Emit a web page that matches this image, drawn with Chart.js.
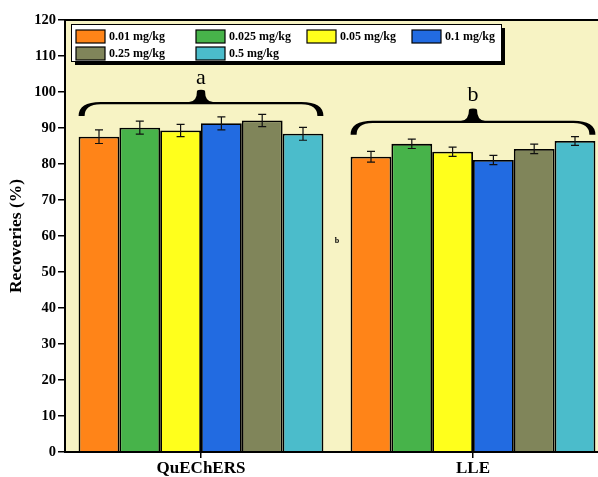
<!DOCTYPE html>
<html lang="en">
<head>
<meta charset="UTF-8">
<title>Recoveries</title>
<script src="https://cdn.jsdelivr.net/npm/chart.js"></script>
<style>
  body { margin: 0; overflow: hidden; background: #fff; }
  #wrap { width: 612px; height: 477px; }
</style>
</head>
<body>
<div id="wrap"><canvas id="recChart" width="612" height="477"></canvas></div>
<script>
// categories and series
const categories = ['QuEChERS', 'LLE'];
const seriesLabels = ['0.01 mg/kg', '0.025 mg/kg', '0.05 mg/kg', '0.1 mg/kg', '0.25 mg/kg', '0.5 mg/kg'];
const seriesColors = ['#FF8418', '#47B34A', '#FFFF1C', '#226BE1', '#80855A', '#4BBCCB'];

// recoveries (%) per concentration, [QuEChERS, LLE]
const rec001 = [87.6, 82.0];
const rec0025 = [90.1, 85.6];
const rec005 = [89.3, 83.4];
const rec01 = [91.3, 81.1];
const rec025 = [92.1, 84.2];
const rec05 = [88.4, 86.4];

// standard deviations
const sd001 = [1.9, 1.5];
const sd0025 = [1.8, 1.3];
const sd005 = [1.7, 1.3];
const sd01 = [1.8, 1.3];
const sd025 = [1.7, 1.3];
const sd05 = [1.8, 1.2];

const yTicks = [0, 120, 10]; // min, max, step

// significance letters and brace heights (in % units)
const groupLetters = ['a', 'b'];
const braceLevels = [96.9, 91.7];
const letterLevels = [102.2, 97.6];

const seriesValues = [rec001, rec0025, rec005, rec01, rec025, rec05];
const seriesErrors = [sd001, sd0025, sd005, sd01, sd025, sd05];

const serif = '"Liberation Serif", "Times New Roman", serif';

// plot background + frame
const frame = {
  id: 'frame',
  beforeDatasetsDraw(chart) {
    const { ctx, chartArea: a } = chart;
    ctx.save();
    ctx.fillStyle = '#F7F3C4';
    ctx.fillRect(a.left, a.top, a.right - a.left, a.bottom - a.top);
    ctx.restore();
  },
  afterDatasetsDraw(chart) {
    const { ctx, chartArea: a } = chart;
    ctx.save();
    ctx.strokeStyle = '#000';
    ctx.lineWidth = 2;
    ctx.strokeRect(a.left, a.top, a.right - a.left, a.bottom - a.top);
    ctx.restore();
  }
};

// error bars
const errorBars = {
  id: 'errorBars',
  afterDatasetsDraw(chart) {
    const { ctx } = chart;
    const y = chart.scales.y;
    ctx.save();
    ctx.strokeStyle = '#111';
    ctx.lineWidth = 1.2;
    chart.data.datasets.forEach((ds, di) => {
      chart.getDatasetMeta(di).data.forEach((bar, i) => {
        const v = ds.data[i], e = seriesErrors[di][i];
        const yt = y.getPixelForValue(v + e), yb = y.getPixelForValue(v - e);
        ctx.beginPath();
        ctx.moveTo(bar.x, yt); ctx.lineTo(bar.x, yb);
        ctx.moveTo(bar.x - 4, yt); ctx.lineTo(bar.x + 4, yt);
        ctx.moveTo(bar.x - 4, yb); ctx.lineTo(bar.x + 4, yb);
        ctx.stroke();
      });
    });
    ctx.restore();
  }
};

function halfBrace(ctx, x0, xm, L, E, P, dir) {
  // dir = 1 for left half, -1 for right half (x0 is the tip side)
  const r = 22 * dir, rp = 12 * dir, t = 1.1, w = 6 * dir;
  ctx.beginPath();
  ctx.moveTo(x0, E);
  ctx.quadraticCurveTo(x0, L - t, x0 + r, L - t);
  ctx.lineTo(xm - rp, L - t);
  ctx.quadraticCurveTo(xm - 4 * dir, L - t, xm - 4 * dir, P + 1);
  ctx.quadraticCurveTo(xm - 3 * dir, P, xm, P);
  ctx.lineTo(xm, L + t);
  ctx.lineTo(x0 + r, L + t);
  ctx.quadraticCurveTo(x0 + w, L + t, x0 + w, E);
  ctx.closePath();
  ctx.fill();
}

// braces with letters over each group
const braces = {
  id: 'braces',
  afterDatasetsDraw(chart) {
    const { ctx } = chart;
    const y = chart.scales.y;
    const n = chart.data.datasets.length;
    ctx.save();
    ctx.fillStyle = '#000';
    categories.forEach((c, i) => {
      const first = chart.getDatasetMeta(0).data[i];
      const last = chart.getDatasetMeta(n - 1).data[i];
      const x0 = first.x - first.width / 2;
      const x1 = last.x + last.width / 2;
      const xm = (x0 + x1) / 2;
      const L = y.getPixelForValue(braceLevels[i]);
      const E = y.getPixelForValue(braceLevels[i] - 3.6);
      const P = y.getPixelForValue(braceLevels[i] + 3.7);
      halfBrace(ctx, x0, xm, L, E, P, 1);
      halfBrace(ctx, x1, xm, L, E, P, -1);
      ctx.font = '22px ' + serif;
      ctx.textAlign = 'center';
      ctx.textBaseline = 'alphabetic';
      ctx.fillText(groupLetters[i], xm, y.getPixelForValue(letterLevels[i]));
    });
    // small stray letter between the groups
    const xs = chart.scales.x;
    const xb = (xs.getPixelForValue(0) + xs.getPixelForValue(1)) / 2;
    ctx.font = 'bold 8px ' + serif;
    ctx.textAlign = 'center';
    ctx.textBaseline = 'middle';
    ctx.fillText('b', xb, y.getPixelForValue(58.6));
    ctx.restore();
  }
};

// legend box inside the plot
const boxLegend = {
  id: 'boxLegend',
  afterDraw(chart) {
    const { ctx, chartArea: a } = chart;
    const bx = a.left + 6, by = a.top + 4, bw = 430, bh = 37;
    ctx.save();
    ctx.fillStyle = '#000';
    ctx.fillRect(bx + 4, by + 4, bw, bh);
    ctx.fillStyle = '#fff';
    ctx.fillRect(bx, by, bw, bh);
    ctx.strokeStyle = '#000';
    ctx.lineWidth = 1;
    ctx.strokeRect(bx + 0.5, by + 0.5, bw, bh);
    const cols = [5, 125, 236, 341];
    ctx.font = 'bold 12px ' + serif;
    ctx.textBaseline = 'middle';
    ctx.textAlign = 'left';
    seriesLabels.forEach((lab, i) => {
      const col = i % 4, row = Math.floor(i / 4);
      const sx = bx + cols[col], sy = by + 6 + row * 17;
      ctx.fillStyle = seriesColors[i];
      ctx.fillRect(sx, sy, 29, 13);
      ctx.strokeStyle = '#000';
      ctx.lineWidth = 1.2;
      ctx.strokeRect(sx, sy, 29, 13);
      ctx.fillStyle = '#000';
      ctx.fillText(lab, sx + 33, sy + 7);
    });
    ctx.restore();
  }
};

new Chart(document.getElementById('recChart'), {
  type: 'bar',
  data: {
    labels: categories,
    datasets: seriesLabels.map((lab, i) => ({
      label: lab,
      data: seriesValues[i],
      backgroundColor: seriesColors[i],
      borderColor: '#000',
      borderWidth: 1.8,
      categoryPercentage: 0.9,
      barPercentage: 1.0
    }))
  },
  options: {
    responsive: false,
    animation: false,
    layout: { padding: { left: 0, top: 20, right: 3, bottom: 0 } },
    plugins: { legend: { display: false }, tooltip: { enabled: false } },
    scales: {
      x: {
        grid: { offset: false, drawOnChartArea: false, drawTicks: true, tickLength: 6, color: '#000', lineWidth: 1.5 },
        border: { display: true, color: '#000', width: 2 },
        ticks: { color: '#000', font: { family: serif, size: 17, weight: 'bold' }, padding: 0 },
        afterFit(s) { s.height = 25; }
      },
      y: {
        min: yTicks[0], max: yTicks[1],
        ticks: { stepSize: yTicks[2], color: '#000', font: { family: serif, size: 14.5, weight: 'bold' }, padding: 2 },
        grid: { drawOnChartArea: false, drawTicks: true, tickLength: 7, color: '#000', lineWidth: 1.5 },
        border: { display: true, color: '#000', width: 2 },
        title: { display: true, text: 'Recoveries (%)', color: '#000', font: { family: serif, size: 17.5, weight: 'bold' }, padding: { top: 6, bottom: 0 } },
        afterFit(s) { s.width = 65; }
      }
    }
  },
  plugins: [frame, errorBars, braces, boxLegend]
});
</script>
</body>
</html>
